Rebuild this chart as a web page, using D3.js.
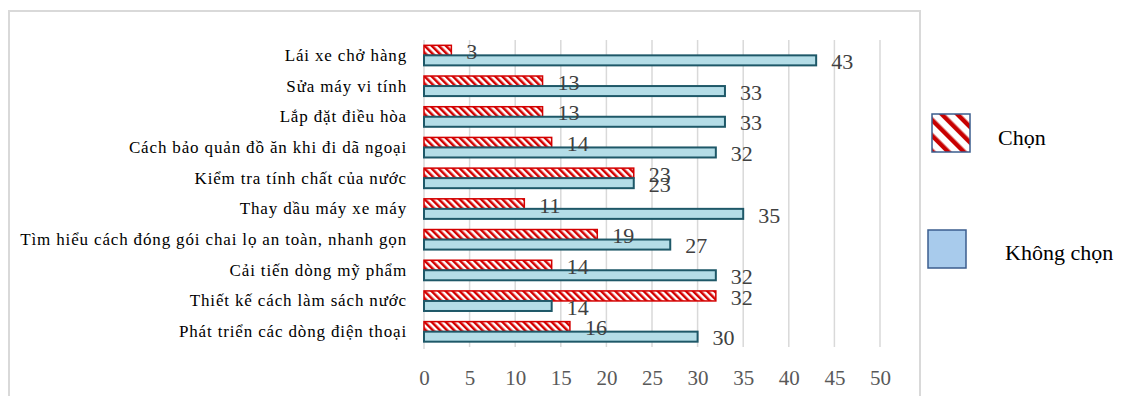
<!DOCTYPE html>
<html><head><meta charset="utf-8">
<script src="https://cdn.jsdelivr.net/npm/d3@7"></script>
<style>
html,body{margin:0;padding:0;background:#fff;}
svg{display:block;}
svg text{font-family:"Liberation Serif","Tinos","Times New Roman","DejaVu Serif",serif;}
</style></head>
<body>
<svg id="c" width="1139" height="396"></svg>
<script>
const categories = [
  "Lái xe chở hàng",
  "Sửa máy vi tính",
  "Lắp đặt điều hòa",
  "Cách bảo quản đồ ăn khi đi dã ngoại",
  "Kiểm tra tính chất của nước",
  "Thay dầu máy xe máy",
  "Tìm hiểu cách đóng gói chai lọ an toàn, nhanh gọn",
  "Cải tiến dòng mỹ phẩm",
  "Thiết kế cách làm sách nước",
  "Phát triển các dòng điện thoại"
];
const seriesNames = ["Chọn", "Không chọn"];
const chon = [3, 13, 13, 14, 23, 11, 19, 14, 32, 16];
const khongChon = [43, 33, 33, 32, 23, 35, 27, 32, 14, 30];
const xTicks = [0, 5, 10, 15, 20, 25, 30, 35, 40, 45, 50];

const svg = d3.select("#c");

const defs = svg.append("defs");
const p1 = defs.append("pattern").attr("id","hatch").attr("patternUnits","userSpaceOnUse")
  .attr("width",5).attr("height",5).attr("patternTransform","rotate(-45)");
p1.append("rect").attr("width",5).attr("height",5).attr("fill","#fff");
p1.append("rect").attr("width",2.5).attr("height",5).attr("fill","#d40000");
const p2 = defs.append("pattern").attr("id","hatchL").attr("patternUnits","userSpaceOnUse")
  .attr("width",11).attr("height",11).attr("patternTransform","rotate(-45)");
p2.append("rect").attr("width",11).attr("height",11).attr("fill","#fff");
p2.append("rect").attr("width",4.5).attr("height",11).attr("fill","#c80000");

// chart border
svg.append("path").attr("d","M9,400 V11 H920 V400").attr("fill","none")
  .attr("stroke","#d9d9d9").attr("stroke-width",2);

const x = d3.scaleLinear().domain([0,50]).range([424,880]);
const y0 = d3.scaleBand().domain(categories).range([40,347]).padding(0);
const y1 = d3.scaleBand().domain(seriesNames).range([0,y0.bandwidth()]).paddingInner(0).paddingOuter(0.53);

// gridlines
svg.append("g").selectAll("line").data(xTicks).join("line")
  .attr("x1",d=>x(d)).attr("x2",d=>x(d)).attr("y1",40).attr("y2",d=>d===0?349:347)
  .attr("stroke","#d9d9d9").attr("stroke-width",1.5);

// x tick labels
const xAxis = d3.axisBottom(x).tickValues(xTicks).tickSize(0).tickPadding(0);
const gx = svg.append("g").attr("transform","translate(0,385)").call(xAxis);
gx.attr("font-family",null);
gx.select(".domain").remove();
gx.selectAll("text").style("font-size","21px").attr("fill","#595959").attr("dy",0);

// y labels
const yAxis = d3.axisLeft(y0).tickSize(0).tickPadding(0);
const gy = svg.append("g").attr("transform","translate(407,0)").call(yAxis);
gy.attr("font-family",null);
gy.select(".domain").remove();
gy.selectAll("text").style("font-size","17px").attr("fill","#000")
  .style("letter-spacing","0.85px").attr("dy","0.32em");

const data = categories.map((c,i)=>({cat:c, vals:[{s:"Chọn",v:chon[i]},{s:"Không chọn",v:khongChon[i]}]}));

const rows = svg.append("g").selectAll("g").data(data).join("g")
  .attr("transform",d=>`translate(0,${y0(d.cat)})`);

rows.selectAll("rect").data(d=>d.vals).join("rect")
  .attr("x",x(0)).attr("y",d=>y1(d.s)).attr("width",d=>x(d.v)-x(0)).attr("height",y1.bandwidth())
  .attr("fill",d=>d.s==="Chọn"?"url(#hatch)":"#b4dde7")
  .attr("stroke",d=>d.s==="Chọn"?"#d40000":"#1e5868")
  .attr("stroke-width",d=>d.s==="Chọn"?1.5:2);

rows.selectAll("text").data(d=>d.vals).join("text")
  .attr("x",d=>x(d.v)+15).attr("y",d=>y1(d.s)+y1.bandwidth()/2+1)
  .attr("dy","0.35em")
  .style("font-size","22px").attr("fill","#404040")
  .text(d=>d.v);

// legend
const leg = svg.append("g");
const legItems = [
  {name:seriesNames[0], fill:"url(#hatchL)", sx:932, sy:114, tx:998, ty:137},
  {name:seriesNames[1], fill:"#a8cbec", sx:928, sy:230, tx:1005, ty:252}
];
leg.selectAll("rect").data(legItems).join("rect")
  .attr("x",d=>d.sx).attr("y",d=>d.sy).attr("width",38).attr("height",38)
  .attr("fill",d=>d.fill).attr("stroke","#3b5d8e").attr("stroke-width",1.5);
leg.selectAll("text").data(legItems).join("text")
  .attr("x",d=>d.tx).attr("y",d=>d.ty).attr("dy","0.35em")
  .style("font-size","22px").attr("fill","#000")
  .text(d=>d.name);
</script>
</body></html>
